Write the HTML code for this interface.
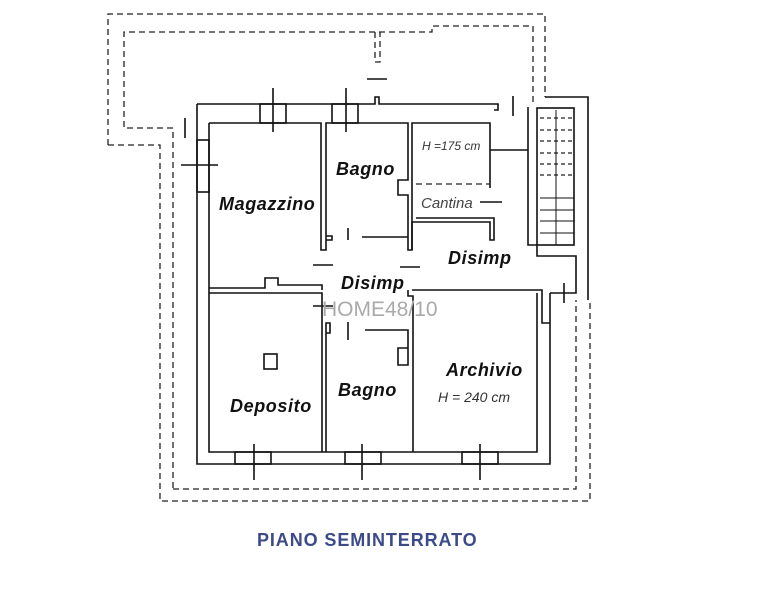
<!DOCTYPE html>
<html><head><meta charset="utf-8"><style>
html,body{margin:0;padding:0;background:#fff;}
svg{display:block;}
.w{stroke:#111;stroke-width:1.6;fill:none;}
.d{stroke:#222;stroke-width:1.3;fill:none;stroke-dasharray:6,4;}
.t{font-family:"Liberation Sans",sans-serif;font-style:italic;font-weight:bold;fill:#111;letter-spacing:0.6px;}
</style></head><body>
<svg width="779" height="600" viewBox="0 0 779 600" xmlns="http://www.w3.org/2000/svg">
<rect width="779" height="600" fill="#fff"/>
<path class="d" d="M108 145 V14 H545 V97"/>
<path class="d" d="M108 145 H160 V501 H590 V300"/>
<path class="w" d="M545 97 H588 V300"/>
<path class="d" d="M173 488 V128 H124 V32 H432 V26 H533 V105"/>
<path class="d" d="M173 489 H576 V300"/>
<path class="d" d="M375 32 V62 H380 V32"/>
<line class="w" x1="367" y1="79" x2="387" y2="79"/>
<line class="w" x1="185" y1="118" x2="185" y2="138"/>
<path class="w" d="M197 104 H375 V97 H379 V104 H498 V110 H494"/>
<path class="w" d="M197 104 V464 H550 V293"/>
<path class="w" d="M209 123 V452 H537 V293"/>
<rect class="w" x="260" y="104" width="26" height="19"/>
<line class="w" x1="273" y1="88" x2="273" y2="132"/>
<rect class="w" x="332" y="104" width="26" height="19"/>
<line class="w" x1="346" y1="88" x2="346" y2="132"/>
<rect class="w" x="197" y="140" width="12" height="52"/>
<line class="w" x1="181" y1="165" x2="218" y2="165"/>
<path class="w" d="M209 123 H321 V250 H326 V123 H408 V180 H398 V195 H408 V250 H412 V123 H490 V188"/>
<path class="w" d="M326 240 H332 V236 H326"/>
<path class="d" d="M416 184 H490"/>
<line class="w" x1="490" y1="150" x2="528" y2="150"/>
<line class="w" x1="480" y1="202" x2="502" y2="202"/>
<path class="w" d="M412 250 V222 H490 V240 H494 V218 H416"/>
<line class="w" x1="362" y1="237" x2="408" y2="237"/>
<line class="w" x1="348" y1="228" x2="348" y2="240"/>
<line class="w" x1="513" y1="96" x2="513" y2="116"/>
<path class="w" d="M528 107 V245 H537 V256 H576 V293 H550"/>
<rect class="w" x="537" y="108" width="37" height="137"/>
<g class="d" style="stroke-dasharray:4,3">
<line x1="540" y1="118" x2="574" y2="118"/><line x1="540" y1="130" x2="574" y2="130"/>
<line x1="540" y1="141" x2="574" y2="141"/><line x1="540" y1="153" x2="574" y2="153"/>
<line x1="540" y1="164" x2="574" y2="164"/><line x1="540" y1="175" x2="574" y2="175"/>
</g>
<g class="w" style="stroke-width:1">
<line x1="540" y1="198" x2="574" y2="198"/><line x1="540" y1="210" x2="574" y2="210"/>
<line x1="540" y1="221" x2="574" y2="221"/><line x1="540" y1="233" x2="574" y2="233"/>
<line x1="556" y1="110" x2="556" y2="245"/>
</g>
<line class="w" x1="313" y1="265" x2="333" y2="265"/>
<line class="w" x1="400" y1="267" x2="420" y2="267"/>
<path class="w" d="M209 288 H265 V278 H278 V285 H322 V290"/>
<path class="w" d="M209 293 H322 V452"/>
<path class="w" d="M408 290 V296 H413 V452"/>
<path class="w" d="M412 290 H542 V293"/>
<path class="w" d="M326 452 V323 H330 V333 H326"/>
<path class="w" d="M365 330 H408 V365 H398 V348 H408"/>
<line class="w" x1="348" y1="322" x2="348" y2="340"/>
<line class="w" x1="313" y1="306" x2="333" y2="306"/>
<line class="w" x1="564" y1="283" x2="564" y2="303"/>
<path class="w" d="M542 293 V323 H550"/>
<rect class="w" x="264" y="354" width="13" height="15"/>
<rect class="w" x="235" y="452" width="36" height="12"/>
<line class="w" x1="254" y1="444" x2="254" y2="480"/>
<rect class="w" x="345" y="452" width="36" height="12"/>
<line class="w" x1="362" y1="444" x2="362" y2="480"/>
<rect class="w" x="462" y="452" width="36" height="12"/>
<line class="w" x1="480" y1="444" x2="480" y2="480"/>
<text class="t" x="219" y="210" font-size="18">Magazzino</text>
<text class="t" x="336" y="175" font-size="18">Bagno</text>
<text x="422" y="150" font-size="12" font-family="Liberation Sans,sans-serif" font-style="italic" fill="#333">H =175 cm</text>
<text x="421" y="208" font-size="15" font-family="Liberation Sans,sans-serif" font-style="italic" fill="#444">Cantina</text>
<text class="t" x="448" y="264" font-size="18">Disimp</text>
<text class="t" x="341" y="289" font-size="18">Disimp</text>
<text x="322" y="316" font-size="21" font-family="Liberation Sans,sans-serif" fill="#aaa">HOME48/10</text>
<text class="t" x="230" y="412" font-size="18">Deposito</text>
<text class="t" x="338" y="396" font-size="18">Bagno</text>
<text class="t" x="446" y="376" font-size="18">Archivio</text>
<text x="438" y="402" font-size="14" font-family="Liberation Sans,sans-serif" font-style="italic" fill="#333">H = 240 cm</text>
<text x="257" y="546" font-size="18" font-weight="bold" font-family="Liberation Sans,sans-serif" fill="#3d4a8a" letter-spacing="0.9">PIANO SEMINTERRATO</text>
</svg>
</body></html>
